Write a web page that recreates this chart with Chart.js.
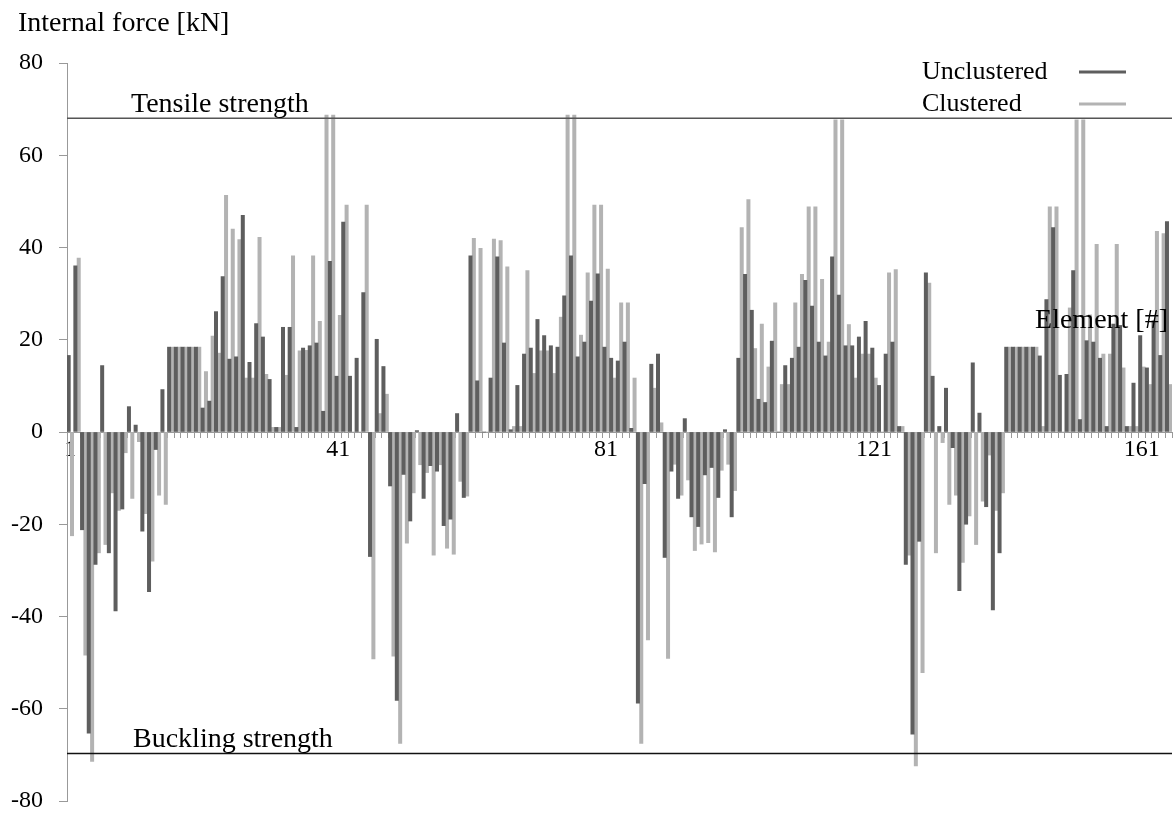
<!DOCTYPE html>
<html>
<head>
<meta charset="utf-8">
<script src="https://cdn.jsdelivr.net/npm/chart.js@4.4.1/dist/chart.umd.min.js"></script>
<style>
  body { margin: 0; background: #fff; }
  canvas { display: block; }
</style>
</head>
<body>
<canvas id="forceChart" width="1174" height="816"></canvas>
<script>
// element numbers 1..165
const elements = Array.from({ length: 165 }, (_, i) => i + 1);

// internal force per element [kN]
const unclustered = [
  16.6, 36, -21.2, -65.3, -28.7, 14.4, -26.2, -38.8, -16.7, 5.5,
  1.5, -21.5, -34.6, -3.8, 9.2, 18.4, 18.4, 18.4, 18.4, 18.4,
  5.2, 6.7, 26.1, 33.7, 15.8, 16.3, 47, 15.1, 23.5, 20.6,
  11.4, 1, 22.7, 22.7, 1, 18.2, 18.7, 19.3, 4.5, 37,
  12.1, 45.5, 12.1, 16, 30.2, -27, 20.1, 14.2, -11.7, -58.2,
  -9.2, -19.3, 0.3, -14.4, -7.3, -8.5, -20.3, -18.9, 4, -14.2,
  38.2, 11.1, 0, 11.7, 38, 19.3, 0.5, 10.1, 16.9, 18.2,
  24.4, 20.9, 18.7, 18.4, 29.5, 38.2, 16.3, 19.5, 28.4, 34.3,
  18.4, 16, 15.4, 19.5, 0.8, -58.8, -11.2, 14.7, 16.9, -27.2,
  -8.5, -14.4, 2.9, -18.4, -20.5, -9.3, -7.7, -14.2, 0.5, -18.4,
  16, 34.2, 26.4, 7.1, 6.4, 19.7, 0, 14.4, 16, 18.4,
  32.9, 27.3, 19.5, 16.5, 38, 29.7, 18.7, 18.7, 20.6, 24,
  18.2, 10.1, 16.9, 19.5, 1.2, -28.7, -65.5, -23.7, 34.5, 12.1,
  1.2, 9.5, -3.4, -34.4, -20, 15, 4.1, -16.2, -38.6, -26.2,
  18.4, 18.4, 18.4, 18.4, 18.4, 16.5, 28.7, 44.3, 12.3, 12.5,
  35, 2.7, 19.8, 19.5, 16, 1.2, 23.4, 23.1, 1.2, 10.6,
  20.9, 13.9, 24.1, 16.6, 45.6
];

const clustered = [
  -22.5, 37.7, -48.4, -71.4, -26.2, -24.4, -13.2, -17, -4.5, -14.4,
  -2.1, -17.7, -28, -13.7, -15.7, 18.4, 18.4, 18.4, 18.4, 18.4,
  13.1, 20.8, 17.1, 51.3, 44, 41.7, 11.7, 11.7, 42.2, 12.5,
  1, 1, 12.3, 38.2, 17.6, 17.7, 38.2, 24, 68.7, 68.7,
  25.3, 49.2, 0, 0, 49.2, -49.2, 4, 8.2, -48.6, -67.5,
  -24.1, -13.2, -7.1, -8.8, -26.7, -7.1, -25.2, -26.5, -10.7, -13.9,
  42, 39.8, 0, 41.8, 41.5, 35.8, 1.2, 1.2, 35, 12.7,
  17.6, 17.6, 12.7, 24.9, 68.7, 68.7, 21, 34.5, 49.2, 49.2,
  35.3, 11.7, 28, 28, 11.7, -67.5, -45.1, 9.5, 2, -49.1,
  -7, -13.7, -10.4, -25.7, -24.3, -24, -26, -8.3, -7, -12.7,
  44.3, 50.4, 18.1, 23.4, 14.1, 28, 10.3, 10.3, 28, 34.2,
  48.8, 48.8, 33.1, 19.5, 67.7, 67.7, 23.3, 11.7, 16.9, 16.9,
  11.7, 0, 34.5, 35.2, 1.2, -26.7, -72.4, -52.2, 32.3, -26.2,
  -2.3, -15.7, -13.7, -28.3, -18.2, -24.4, -15, -5, -17, -13.2,
  18.4, 18.4, 18.4, 18.4, 18.4, 1.2, 48.8, 48.8, 0, 26.9,
  67.7, 67.7, 25.4, 40.7, 16.9, 16.9, 40.7, 13.9, 1.2, 1.2,
  14.1, 10.3, 43.5, 43, 10.3
];

const yTicks = [-80, -60, -40, -20, 0, 20, 40, 60, 80];
const TENSILE = 68;
const BUCKLING = -69.7;

const DARK = "#5e5e5e";
const LIGHT = "#b3b3b3";
const SERIF = '"Liberation Serif", "Times New Roman", serif';

// strength lines, captions and the legend
const annotations = {
  id: "annotations",
  afterDatasetsDraw(chart) {
    const { ctx, chartArea } = chart;
    const y = chart.scales.y;
    ctx.save();
    ctx.lineWidth = 1.5;
    ctx.strokeStyle = "#555";
    ctx.beginPath();
    ctx.moveTo(chartArea.left, y.getPixelForValue(TENSILE));
    ctx.lineTo(chartArea.right, y.getPixelForValue(TENSILE));
    ctx.stroke();
    ctx.strokeStyle = "#111";
    ctx.beginPath();
    ctx.moveTo(chartArea.left, y.getPixelForValue(BUCKLING));
    ctx.lineTo(chartArea.right, y.getPixelForValue(BUCKLING));
    ctx.stroke();
    ctx.restore();
  },
  afterDraw(chart) {
    const { ctx } = chart;
    const y = chart.scales.y;
    ctx.save();
    ctx.fillStyle = "#000";
    ctx.font = "28px " + SERIF;
    ctx.textBaseline = "alphabetic";
    ctx.textAlign = "left";
    ctx.fillText("Internal force [kN]", 18, 31);
    ctx.fillText("Tensile strength", 131, y.getPixelForValue(TENSILE) - 6);
    ctx.fillText("Buckling strength", 133, y.getPixelForValue(BUCKLING) - 6);
    ctx.textAlign = "right";
    ctx.fillText("Element [#]", 1168, 328);

    // legend: label left, line sample right
    ctx.font = "26px " + SERIF;
    ctx.textAlign = "left";
    chart.data.datasets.forEach((ds, i) => {
      const ly = 72 + i * 32;
      ctx.fillText(ds.label, 922, ly + 7);
      ctx.strokeStyle = ds.backgroundColor;
      ctx.lineWidth = 3;
      ctx.beginPath();
      ctx.moveTo(1079, ly);
      ctx.lineTo(1126, ly);
      ctx.stroke();
    });
    ctx.restore();
  },
};

new Chart(document.getElementById("forceChart"), {
  type: "bar",
  data: {
    labels: elements,
    datasets: [
      {
        label: "Unclustered",
        data: unclustered,
        backgroundColor: DARK,
        categoryPercentage: 1,
        barPercentage: 1,
      },
      {
        label: "Clustered",
        data: clustered,
        backgroundColor: LIGHT,
        categoryPercentage: 1,
        barPercentage: 1,
      },
    ],
  },
  options: {
    responsive: false,
    animation: false,
    layout: { padding: { left: 0, right: 2, top: 63, bottom: 15 } },
    plugins: { legend: { display: false }, tooltip: { enabled: false } },
    scales: {
      x: {
        position: { y: 0 },
        z: 1,
        afterFit: (s) => { s.height = 0; },
        grid: { drawOnChartArea: false, offset: true, tickLength: 5, color: "#999" },
        border: { color: "#999" },
        ticks: {
          autoSkip: false,
          maxRotation: 0,
          minRotation: 0,
          padding: -2,
          color: "#000",
          font: { family: SERIF, size: 24 },
          callback: (v, i) => (i % 40 === 0 ? String(elements[i]) : ""),
        },
      },
      y: {
        min: -80,
        max: 80,
        afterFit: (s) => {
          s.width = 67;
          s.paddingTop = 0;
          s.paddingBottom = 0;
        },
        afterBuildTicks: (s) => { s.ticks = yTicks.map((v) => ({ value: v })); },
        grid: { drawOnChartArea: false, tickLength: 8, color: "#999" },
        border: { color: "#999" },
        ticks: {
          padding: 16,
          color: "#000",
          font: { family: SERIF, size: 24 },
        },
      },
    },
  },
  plugins: [annotations],
});
</script>
</body>
</html>
